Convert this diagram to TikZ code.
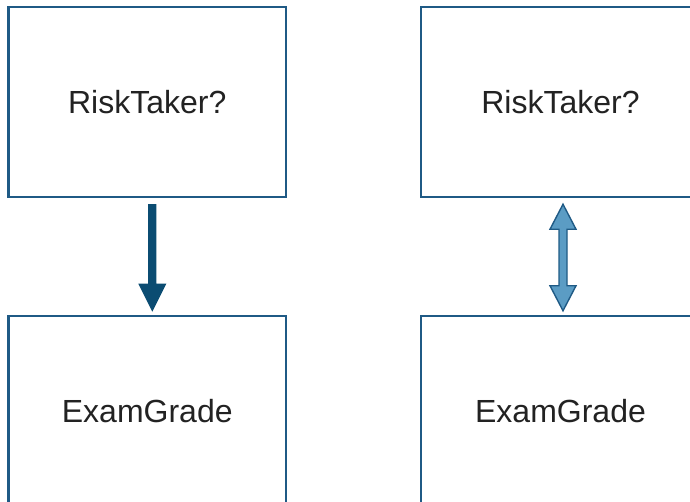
\documentclass[tikz,border=0pt]{standalone}
\usepackage{fontspec}
\setmainfont{Liberation Sans}
\usetikzlibrary{calc}
\definecolor{boxblue}{HTML}{1F5A85}
\definecolor{darkarrow}{HTML}{0B4C72}
\definecolor{lightarrow}{HTML}{5B9CC4}
\definecolor{txt}{HTML}{222222}
\begin{document}
\begin{tikzpicture}[x=1pt,y=-1pt,
  varbox/.style={draw=boxblue, line width=2.5pt, fill=white, inner sep=0pt, text=txt,
    font=\fontsize{32}{36}\selectfont},
  lbox/.style={varbox, minimum width=277.5pt, minimum height=190pt},
  rbox/.style={varbox, minimum width=279pt, minimum height=190pt}]
\useasboundingbox (0,0) rectangle (690,502);
\clip (0,0) rectangle (690,502);
\node[lbox] (rt1) at (147.25,102) {RiskTaker?};
\node[rbox] (rt2) at (560.5,102) {RiskTaker?};
\node[lbox] (eg1) at (147.25,411) {ExamGrade};
\node[rbox] (eg2) at (560.5,411) {ExamGrade};
% left directed arrow
\coordinate (a1s) at ($(rt1.south)+(5,6)$);
\coordinate (a1e) at ($(eg1.north)+(5,-3)$);
\fill[darkarrow] ($(a1s)+(-4.2,0)$) -- ($(a1s)+(4.2,0)$) -- ($(a1e)+(4.2,-28)$) -- ($(a1e)+(14,-28)$)
  -- (a1e) -- ($(a1e)+(-14,-28)$) -- ($(a1e)+(-4.2,-28)$) -- cycle;
% right double arrow
\coordinate (a2s) at ($(rt2.south)+(2.5,6)$);
\coordinate (a2e) at ($(eg2.north)+(2.5,-4)$);
\draw[boxblue, fill=lightarrow, line width=1.4pt, line join=miter]
  (a2s) -- ($(a2s)+(13,25)$) -- ($(a2s)+(4,25)$) -- ($(a2e)+(4,-25)$) -- ($(a2e)+(13,-25)$)
  -- (a2e) -- ($(a2e)+(-13,-25)$) -- ($(a2e)+(-4,-25)$) -- ($(a2s)+(-4,25)$) -- ($(a2s)+(-13,25)$) -- cycle;
\end{tikzpicture}
\end{document}
